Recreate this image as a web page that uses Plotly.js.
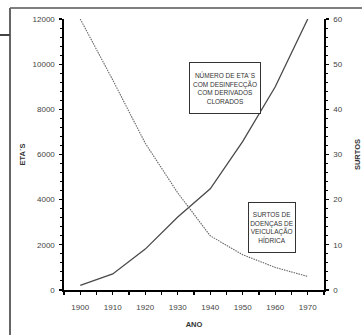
<!DOCTYPE html>
<html>
<head>
<meta charset="utf-8">
<script src="https://cdn.plot.ly/plotly-3.0.1.min.js"></script>
<style>html,body{margin:0;padding:0;background:#fff;}#chart{width:362px;height:335px;}</style>
</head>
<body>
<div id="chart"></div>
<script>
const anos = [1900, 1910, 1920, 1930, 1940, 1950, 1960, 1970];
const etas = [200, 710, 1810, 3230, 4480, 6580, 9000, 12000];
const surtos = [60, 46.5, 32.5, 21.5, 12, 7.8, 5, 3];
const etasTicks = [0, 2000, 4000, 6000, 8000, 10000, 12000];
const surtosTicks = [0, 10, 20, 30, 40, 50, 60];
const labelEtas = 'NÚMERO DE ETA´S<br>COM DESINFECÇÃO<br>COM DERIVADOS<br>CLORADOS';
const labelSurtos = 'SURTOS DE<br>DOENÇAS DE<br>VEICULAÇÃO<br>HÍDRICA';

const FONT = '"Liberation Sans Narrow", "Arial Narrow", "Liberation Sans", sans-serif';

const traces = [
  {x: anos, y: etas, type: 'scatter', mode: 'lines', name: 'ETA´S',
   line: {color: '#4a4a4a', width: 1.3}, yaxis: 'y'},
  {x: anos, y: surtos, type: 'scatter', mode: 'lines', name: 'SURTOS',
   line: {color: '#666666', width: 1.1, dash: '1.5px,1px'}, yaxis: 'y2'}
];

const axisCommon = {
  showgrid: false, zeroline: false, showline: true, linecolor: '#000', linewidth: 1.6,
  ticks: 'outside', ticklen: 3, tickwidth: 1.2, tickcolor: '#000',
  tickfont: {family: FONT, size: 8, color: '#444'}
};

const layout = {
  width: 362, height: 335,
  margin: {l: 64, r: 38, t: 19, b: 45},
  paper_bgcolor: '#fff', plot_bgcolor: '#fff',
  showlegend: false,
  font: {family: FONT, color: '#333'},
  xaxis: Object.assign({}, axisCommon, {
    range: [1895, 1975], tickvals: anos, ticktext: anos.map(String), ticklabelstandoff: 6,
    minor: {tickvals: [1895,1905,1915,1925,1935,1945,1955,1965,1975], ticklen: 3, tickcolor: '#000', tickwidth: 1.2},
    title: {text: '<b>ANO</b>', font: {family: FONT, size: 7.5, color: '#333'}, standoff: 10}
  }),
  yaxis: Object.assign({}, axisCommon, {
    range: [0, 12000], tickvals: etasTicks, ticktext: etasTicks.map(String), ticklabelstandoff: 3,
    minor: {dtick: 400, ticklen: 2.5, tickcolor: '#000', tickwidth: 1},
    title: {text: '<b>ETA´S</b>', font: {family: FONT, size: 7.5, color: '#333'}, standoff: 6}
  }),
  yaxis2: Object.assign({}, axisCommon, {
    overlaying: 'y', side: 'right', range: [0, 60], tickvals: surtosTicks, ticktext: surtosTicks.map(String), ticklabelstandoff: 3,
    minor: {dtick: 2, ticklen: 2.5, tickcolor: '#000', tickwidth: 1},
    title: {text: '<b>SURTOS</b>', font: {family: FONT, size: 7.5, color: '#333'}, standoff: 13}
  }),
  annotations: [
    {xref: 'x', yref: 'y', x: 1944.5, y: 8945, text: labelEtas, showarrow: false, width: 68, height: 48,
     font: {family: FONT, size: 6.5, color: '#333'}, bgcolor: '#fff', bordercolor: '#333', borderwidth: 1, borderpad: 1},
    {xref: 'x', yref: 'y', x: 1959, y: 2768, text: labelSurtos, showarrow: false, width: 44, height: 47,
     font: {family: FONT, size: 6.5, color: '#333'}, bgcolor: '#fff', bordercolor: '#333', borderwidth: 1, borderpad: 1}
  ],
  shapes: [
    {type: 'line', xref: 'paper', yref: 'paper', x0: -0.2077, x1: 1.2, y0: 1.0406, y1: 1.0406, line: {color: '#555', width: 1.5}},
    {type: 'line', xref: 'paper', yref: 'paper', x0: -0.2077, x1: -0.2077, y0: 1.0406, y1: -0.2, line: {color: '#666', width: 2}},
    {type: 'line', xref: 'paper', yref: 'paper', x0: -0.25, x1: -0.2077, y0: 0.941, y1: 0.941, line: {color: '#444', width: 2}}
  ]
};

Plotly.newPlot('chart', traces, layout, {displayModeBar: false, staticPlot: true});
</script>
</body>
</html>
